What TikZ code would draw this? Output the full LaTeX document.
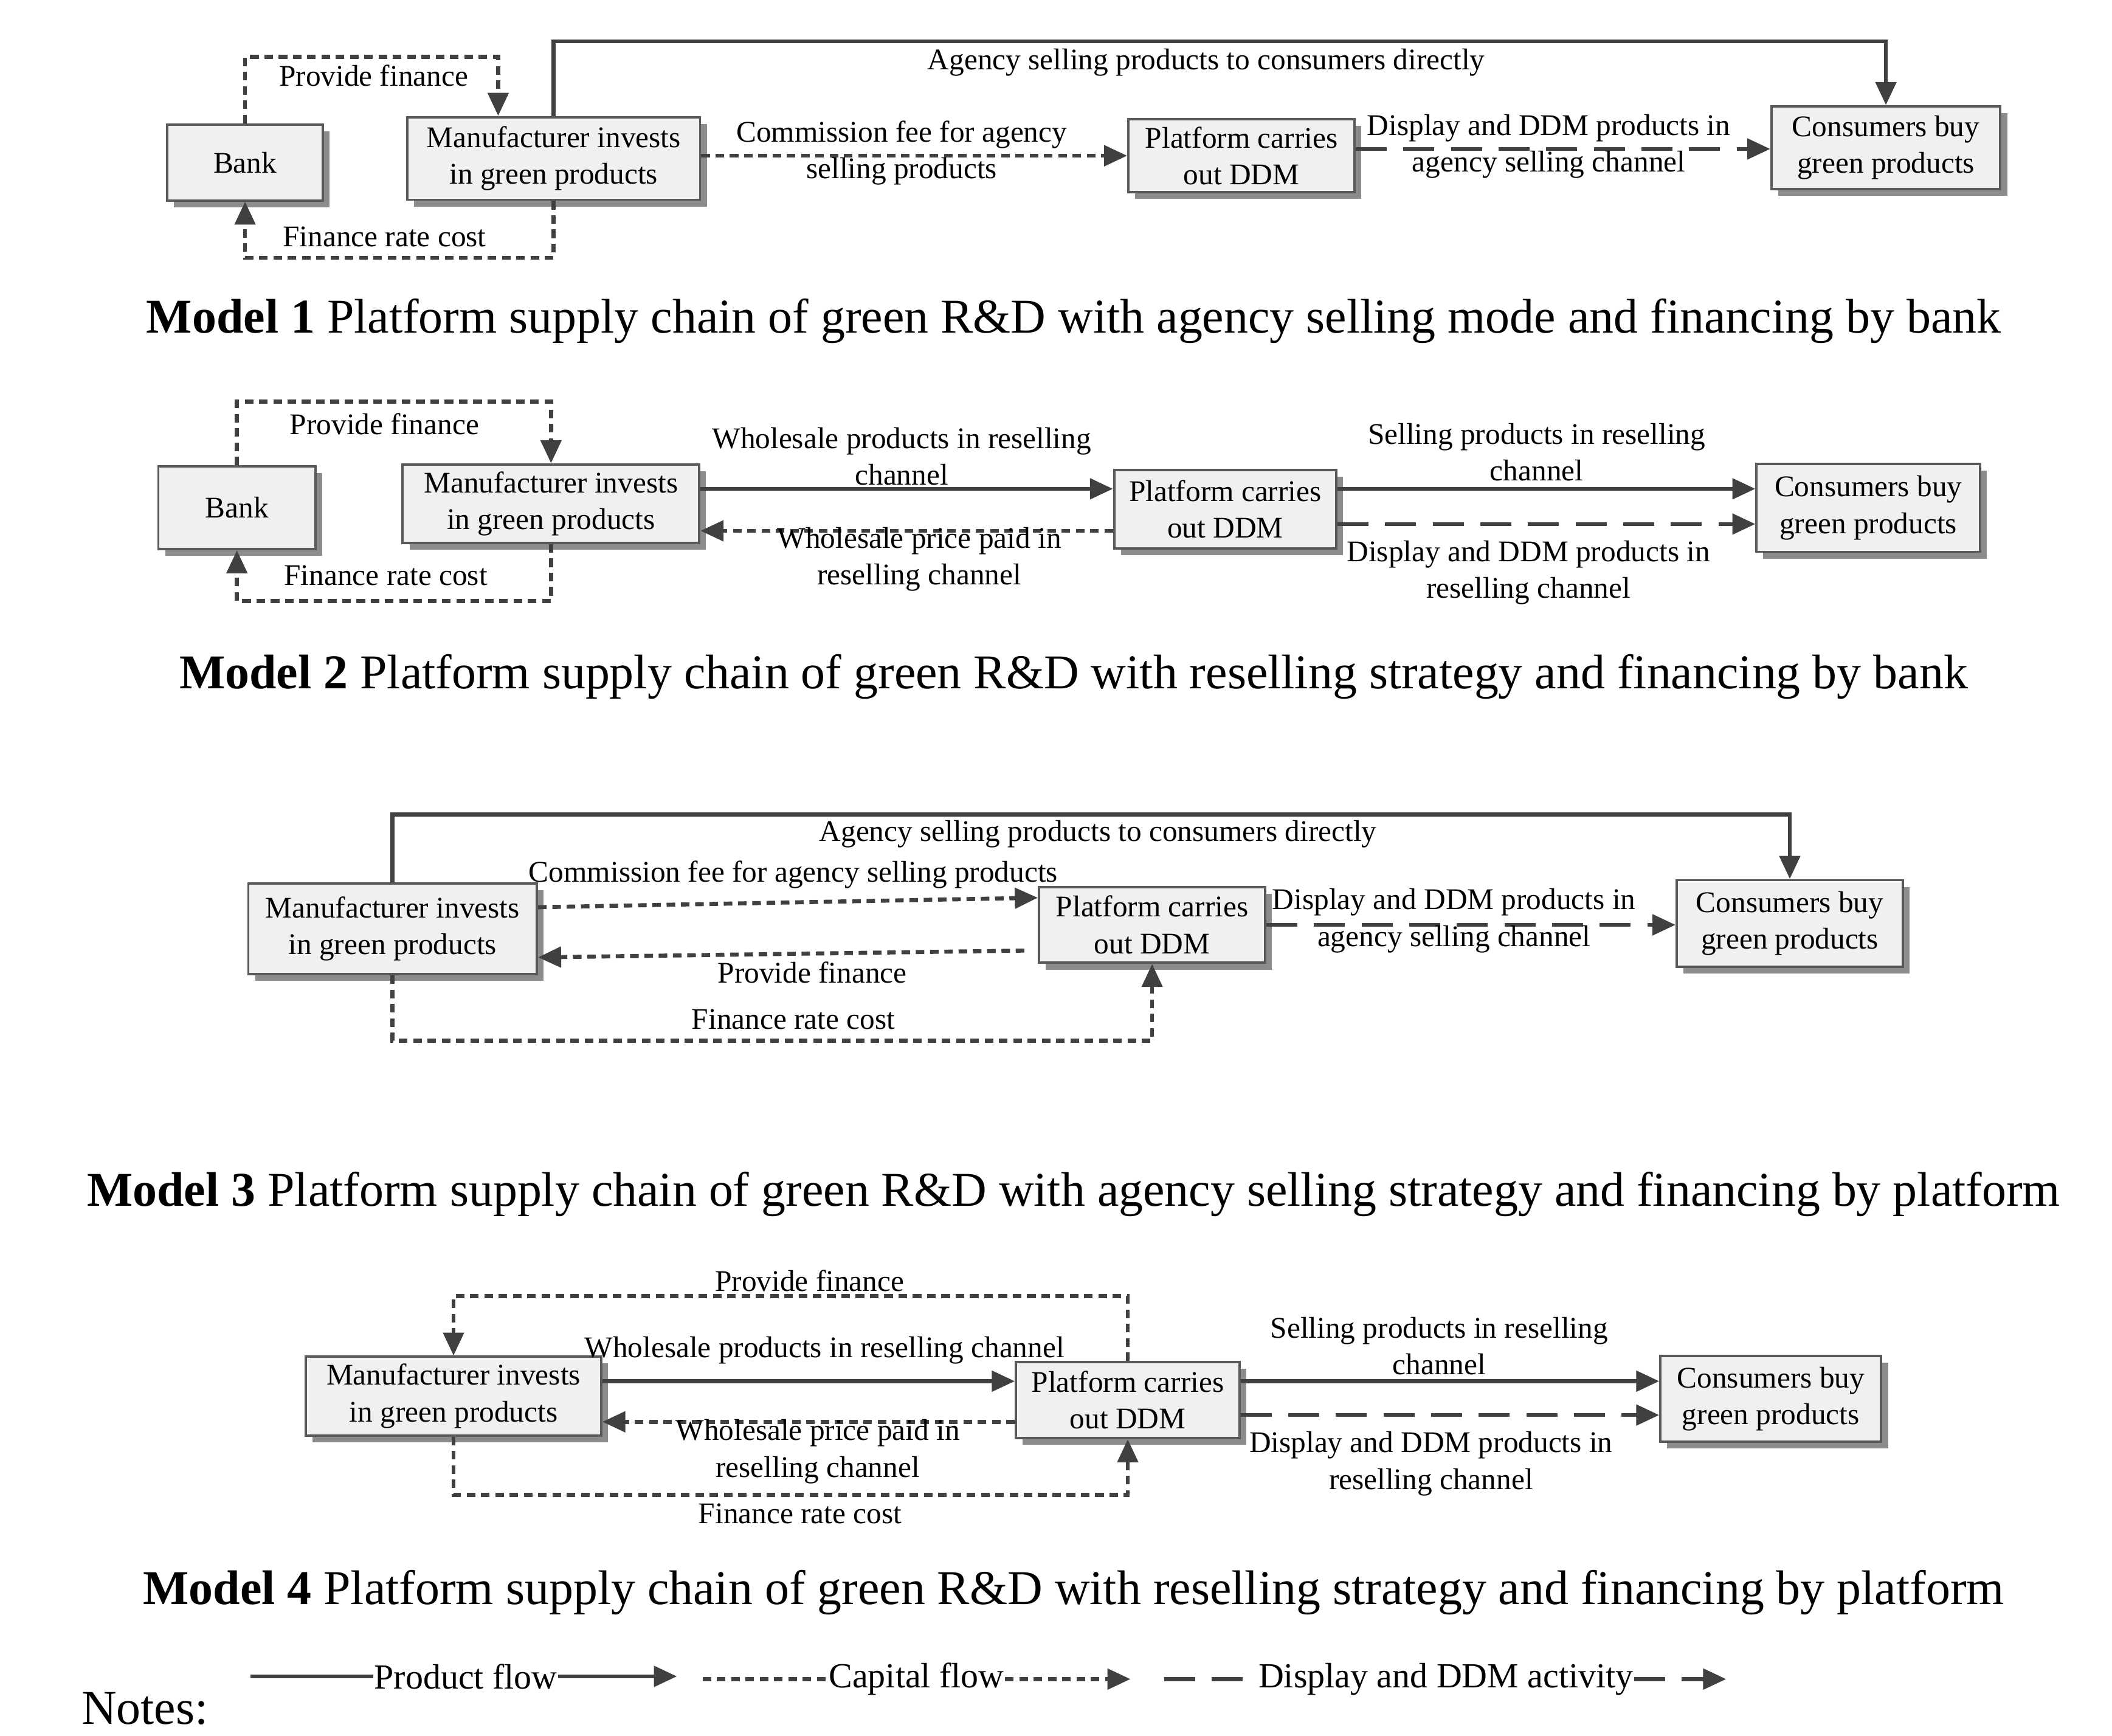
\documentclass[tikz,border=0pt]{standalone}
\usepackage{fontspec}
\setmainfont{Liberation Serif}
\usetikzlibrary{arrows.meta,shadows}
\begin{document}
\begin{tikzpicture}[x=0.01cm,y=-0.01cm,
  box/.style={draw=black!65,line width=0.5pt,fill=black!6,align=center,inner sep=0pt,
    font=\fontsize{6.3}{7.7}\selectfont,
    drop shadow={shadow xshift=0.05cm,shadow yshift=-0.05cm,fill=black!45,opacity=1}},
  lbl/.style={align=center,font=\fontsize{6.3}{7.7}\selectfont,inner sep=0pt},
  ttl/.style={font=\fontsize{10.2}{12}\selectfont,inner sep=0pt},
  prod/.style={draw=black!75,line width=0.85pt,-{Triangle[length=0.17cm,width=0.15cm]}},
  capflow/.style={prod,dash pattern=on 1.8pt off 1.2pt},
  disp/.style={prod,dash pattern=on 6.5pt off 3.5pt}]
\useasboundingbox (0,0) rectangle (1560,1282);
% ---------- Model 1
\node[box,minimum width=1.15cm,minimum height=0.56cm] (bankA) at (181,120) {Bank};
\node[box,minimum width=2.16cm,minimum height=0.61cm] (manA) at (409,117) {Manufacturer invests\\in green products};
\node[box,minimum width=1.67cm,minimum height=0.54cm] (plaA) at (917,115) {Platform carries\\out DDM};
\node[box,minimum width=1.69cm,minimum height=0.61cm] (conA) at (1393,109) {Consumers buy\\green products};
\draw[capflow] (bankA.north) -- ++(0,-49) -| ([xshift=-0.41cm]manA.north);
\node[lbl] (l1) at (276,56) {Provide finance};
\draw[capflow] (manA.south) -- ++(0,42) -| (bankA.south);
\node[lbl] (l2) at (284,175) {Finance rate cost};
\draw[prod] (manA.north) -- ++(0,-55) -| (conA.north);
\node[lbl] (l3) at (891,46) {Agency selling products to consumers directly};
\draw[capflow] (manA.east |- plaA.west) -- (plaA.west);
\node[lbl] (l4) at (666,113) {Commission fee for agency\\selling products};
\draw[disp] ([yshift=0.05cm]plaA.east) -- ([yshift=0.05cm]plaA.east -| conA.west);
\node[lbl] (l5) at (1144,108) {Display and DDM products in\\agency selling channel};
\node[ttl] (t1) at (793,237) {\textbf{Model 1} Platform supply chain of green R\&D with agency selling mode and financing by bank};
% ---------- Model 2
\node[box,minimum width=1.16cm,minimum height=0.61cm] (bankB) at (175,375) {Bank};
\node[box,minimum width=2.19cm,minimum height=0.58cm] (manB) at (407,372) {Manufacturer invests\\in green products};
\node[box,minimum width=1.64cm,minimum height=0.58cm] (plaB) at (905,376) {Platform carries\\out DDM};
\node[box,minimum width=1.65cm,minimum height=0.65cm] (conB) at (1380,375) {Consumers buy\\green products};
\draw[capflow] (bankB.north) -- ++(0,-47) -| (manB.north);
\node[lbl] (m1) at (284,313) {Provide finance};
\draw[capflow] (manB.south) -- ++(0,42) -| (bankB.south);
\node[lbl] (m2) at (285,425) {Finance rate cost};
\draw[prod] ([yshift=0.11cm]manB.east) -- ([yshift=0.11cm]manB.east -| plaB.west);
\node[lbl] (m3) at (666,337) {Wholesale products in reselling\\channel};
\draw[capflow] ([yshift=-0.16cm]plaB.west) -- ([yshift=-0.16cm]plaB.west -| manB.east);
\node[lbl] (m4) at (679,413) {Wholesale price paid in\\reselling channel};
\draw[prod] ([yshift=0.15cm]plaB.east) -- ([yshift=0.15cm]plaB.east -| conB.west);
\node[lbl] (m5) at (1135,334) {Selling products in reselling\\channel};
\draw[disp] ([yshift=-0.11cm]plaB.east) -- ([yshift=-0.11cm]plaB.east -| conB.west);
\node[lbl] (m6) at (1129,423) {Display and DDM products in\\reselling channel};
\node[ttl] (t2) at (793,500) {\textbf{Model 2} Platform supply chain of green R\&D with reselling strategy and financing by bank};
% ---------- Model 3
\node[box,minimum width=2.13cm,minimum height=0.67cm] (manC) at (290,686) {Manufacturer invests\\in green products};
\node[box,minimum width=1.67cm,minimum height=0.56cm] (plaC) at (851,683) {Platform carries\\out DDM};
\node[box,minimum width=1.67cm,minimum height=0.64cm] (conC) at (1322,682) {Consumers buy\\green products};
\draw[prod] (manC.north) -- ++(0,-50) -| (conC.north);
\node[lbl] (n1) at (811,616) {Agency selling products to consumers directly};
\draw[capflow] ([yshift=0.16cm]manC.east) -- ([yshift=0.2cm]plaC.west);
\node[lbl] (n2) at (586,646) {Commission fee for agency selling products};
\draw[capflow] ([xshift=-0.1cm,yshift=-0.19cm]plaC.west) -- ([yshift=-0.21cm]manC.east);
\node[lbl] (n3) at (600,718) {Provide finance};
\draw[capflow] (manC.south) -- ++(0,48) -| (plaC.south);
\node[lbl] (n4) at (586,753) {Finance rate cost};
\draw[disp] (plaC.east) -- (plaC.east -| conC.west);
\node[lbl] (n5) at (1074,680) {Display and DDM products in\\agency selling channel};
\node[ttl] (t3) at (793,882) {\textbf{Model 3} Platform supply chain of green R\&D with agency selling strategy and financing by platform};
% ---------- Model 4
\node[box,minimum width=2.18cm,minimum height=0.58cm] (manD) at (335,1031) {Manufacturer invests\\in green products};
\node[box,minimum width=1.65cm,minimum height=0.56cm] (plaD) at (833,1034) {Platform carries\\out DDM};
\node[box,minimum width=1.63cm,minimum height=0.63cm] (conD) at (1308,1033) {Consumers buy\\green products};
\draw[capflow] (plaD.north) -- ++(0,-48) -| (manD.north);
\node[lbl] (o1) at (598,946) {Provide finance};
\draw[prod] ([yshift=0.11cm]manD.east) -- ([yshift=0.11cm]manD.east -| plaD.west);
\node[lbl] (o2) at (609,997) {Wholesale products in reselling channel};
\draw[capflow] ([yshift=-0.16cm]plaD.west) -- ([yshift=-0.16cm]plaD.west -| manD.east);
\node[lbl] (o3) at (604,1072) {Wholesale price paid in\\reselling channel};
\draw[capflow] (manD.south) -- ++(0,43) -| (plaD.south);
\node[lbl] (o4) at (591,1118) {Finance rate cost};
\draw[prod] ([yshift=0.14cm]plaD.east) -- ([yshift=0.14cm]plaD.east -| conD.west);
\node[lbl] (o5) at (1063,994) {Selling products in reselling\\channel};
\draw[disp] ([yshift=-0.11cm]plaD.east) -- ([yshift=-0.11cm]plaD.east -| conD.west);
\node[lbl] (o6) at (1057,1081) {Display and DDM products in\\reselling channel};
\node[ttl] (t4) at (793,1176) {\textbf{Model 4} Platform supply chain of green R\&D with reselling strategy and financing by platform};
% ---------- Legend
\node[ttl] (notes) at (107,1262) {Notes:};
\node[lbl,font=\fontsize{7.4}{9}\selectfont] (g1) at (344,1238) {Product flow};
\coordinate (g1a) at (185,1238); \coordinate (g1b) at (500,1238);
\draw[draw=black!75,line width=0.85pt] (g1a) -- (g1.west);
\draw[prod] (g1.east) -- (g1b);
\node[lbl,font=\fontsize{7.4}{9}\selectfont] (g2) at (677,1240) {Capital flow};
\coordinate (g2a) at (519,1240); \coordinate (g2b) at (835,1240);
\draw[capflow,-] (g2a) -- (g2.west);
\draw[capflow] (g2.east) -- (g2b);
\node[lbl,font=\fontsize{7.4}{9}\selectfont] (g3) at (1068,1240) {Display and DDM activity};
\coordinate (g3a) at (860,1240); \coordinate (g3b) at (1275,1240);
\draw[disp,-] (g3a) -- (g3.west);
\draw[disp] (g3.east) -- (g3b);
\end{tikzpicture}
\end{document}
